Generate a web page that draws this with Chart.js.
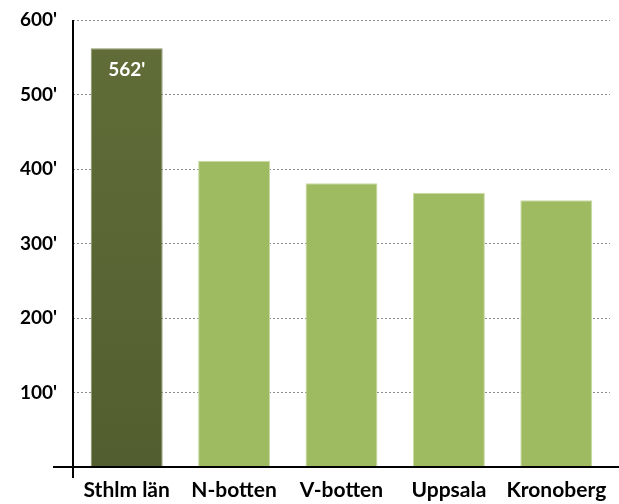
<!DOCTYPE html>
<html><head><meta charset="utf-8">
<script src="https://cdn.jsdelivr.net/npm/chart.js@4/dist/chart.umd.min.js"></script>
<style>html,body{margin:0;padding:0;background:#fff}#wrap{width:619px;height:504px}</style>
</head><body><div id="wrap"><canvas id="c" width="619" height="504"></canvas></div>
<script>
const categories = ["Sthlm län", "N-botten", "V-botten", "Uppsala", "Kronoberg"];
const values = [562, 411, 381, 368, 358];
const highlightLabels = ["562'", "", "", "", ""];
const yTicks = [0, 100, 200, 300, 400, 500, 600];

const FONT = "Lato, 'Open Sans', sans-serif";

const axisPlugin = {
  id: 'axisExt',
  afterDatasetsDraw(chart) {
    const ctx = chart.ctx, a = chart.chartArea;
    ctx.save();
    ctx.strokeStyle = '#000';
    ctx.lineWidth = 2;
    ctx.beginPath();
    ctx.moveTo(a.left - 20, a.bottom); ctx.lineTo(chart.width, a.bottom);
    ctx.moveTo(a.left, a.top); ctx.lineTo(a.left, a.bottom + 11);
    ctx.stroke();
    const meta = chart.getDatasetMeta(0);
    ctx.fillStyle = '#fff';
    ctx.font = "bold 19px " + FONT;
    ctx.textAlign = 'center';
    ctx.textBaseline = 'middle';
    meta.data.forEach((bar, i) => {
      if (highlightLabels[i]) ctx.fillText(highlightLabels[i], bar.x, bar.y + 22);
    });
    ctx.restore();
  }
};

const ctx = document.getElementById('c').getContext('2d');
const grad = ctx.createLinearGradient(0, 40, 0, 467);
grad.addColorStop(0, '#616d38');
grad.addColorStop(1, '#525e2f');

new Chart(ctx, {
  type: 'bar',
  data: {
    labels: categories,
    datasets: [{
      data: values,
      backgroundColor: values.map((v, i) => i === 0 ? grad : '#9fbb62'),
      borderColor: values.map((v, i) => i === 0 ? '#8a9468' : '#c9dba5'),
      borderWidth: 1,
      barPercentage: 0.67,
      categoryPercentage: 1
    }]
  },
  options: {
    responsive: false,
    animation: false,
    devicePixelRatio: 1,
    layout: { padding: { top: 20, right: 9, left: 0, bottom: 0 } },
    plugins: { legend: { display: false }, tooltip: { enabled: false } },
    scales: {
      x: {
        grid: { display: false, drawTicks: false },
        border: { display: false },
        ticks: { color: '#000', font: { family: FONT, size: 21, weight: 'bold' }, padding: 11, maxRotation: 0 },
        afterFit(s) { s.height = 37; s.paddingLeft = 0; s.paddingRight = 0; }
      },
      y: {
        min: 0, max: 600,
        afterBuildTicks(s) { s.ticks = yTicks.map(v => ({ value: v })); },
        grid: {
          color: (c) => c.tick && c.tick.value === 0 ? 'rgba(0,0,0,0)' : '#8c8c8c',
          lineWidth: 1,
          drawTicks: false
        },
        border: { display: false, dash: [2, 2] },
        ticks: {
          color: '#000',
          font: { family: FONT, size: 19, weight: 'bold' },
          padding: 16,
          callback: (v) => v === 0 ? '' : v + "'"
        },
        afterFit(s) { s.width = 73; s.paddingTop = 0; s.paddingBottom = 0; }
      }
    }
  },
  plugins: [axisPlugin]
});
</script>
</body></html>
